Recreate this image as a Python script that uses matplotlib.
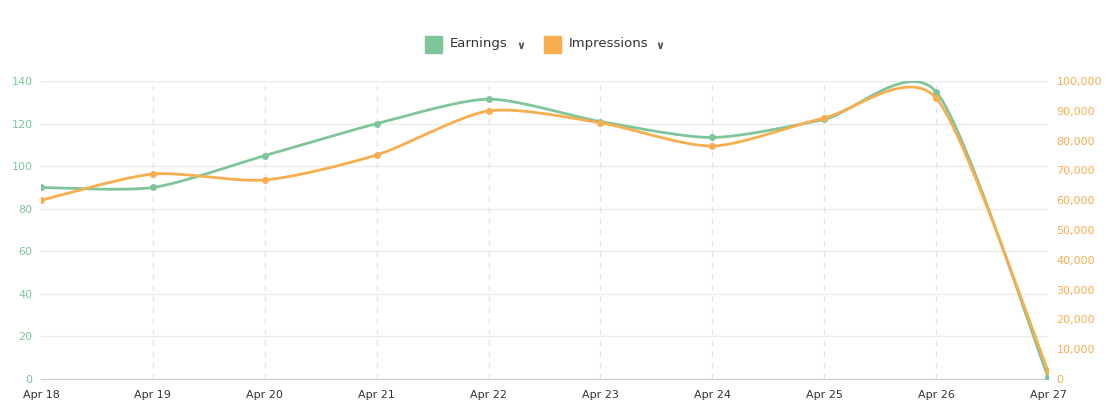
import matplotlib.pyplot as plt
import numpy as np
from matplotlib.ticker import FuncFormatter

days = ["Apr 18", "Apr 19", "Apr 20", "Apr 21", "Apr 22", "Apr 23", "Apr 24", "Apr 25", "Apr 26", "Apr 27"]
earnings = [90, 90, 105, 120, 131.5, 121, 113.5, 122, 135, 1]
impressions = [60000, 68800, 66800, 75200, 90000, 86000, 78200, 87600, 94300, 2700]

green = "#7ec699"
orange = "#f8ad4f"


def smooth(y, t=0.25, n=30):
    # cardinal spline through the points, like chart.js line tension
    y = np.asarray(y, float)
    x = np.arange(len(y), dtype=float)
    xs, ys = [], []
    for i in range(len(y) - 1):
        p0 = (x[max(i - 1, 0)], y[max(i - 1, 0)])
        p1 = (x[i], y[i])
        p2 = (x[i + 1], y[i + 1])
        p3 = (x[min(i + 2, len(y) - 1)], y[min(i + 2, len(y) - 1)])
        c1 = (p1[0] + (p2[0] - p0[0]) * t / 2, p1[1] + (p2[1] - p0[1]) * t / 2)
        c2 = (p2[0] - (p3[0] - p1[0]) * t / 2, p2[1] - (p3[1] - p1[1]) * t / 2)
        s = np.linspace(0, 1, n)
        bx = (1-s)**3*p1[0] + 3*(1-s)**2*s*c1[0] + 3*(1-s)*s**2*c2[0] + s**3*p2[0]
        by = (1-s)**3*p1[1] + 3*(1-s)**2*s*c1[1] + 3*(1-s)*s**2*c2[1] + s**3*p2[1]
        xs.append(bx); ys.append(by)
    return np.concatenate(xs), np.concatenate(ys)


fig = plt.figure(figsize=(11.18, 4.18), dpi=100)
ax = fig.add_axes([0.0367, 0.0933, 0.9007, 0.7127])
ax2 = ax.twinx()

x = np.arange(len(days))
sx, sy = smooth(earnings)
ax.plot(sx, sy, color=green, lw=2, zorder=3)
ax.scatter(x, earnings, color=green, s=16, zorder=4)
sx, sy = smooth(impressions)
ax2.plot(sx, sy, color=orange, lw=2, zorder=2)
ax2.scatter(x, impressions, color=orange, s=16, zorder=3)

ax.set_xlim(0, len(days) - 1)
ax.set_ylim(0, 140)
ax2.set_ylim(0, 100000)
ax.set_yticks(range(0, 141, 20))
ax2.set_yticks(range(0, 100001, 10000))
ax2.yaxis.set_major_formatter(FuncFormatter(lambda v, p: f"{int(v):,}"))
ax.set_xticks(x)
ax.set_xticklabels(days)

ax.grid(axis="y", color="#ebebeb", lw=1)
for xi in x[1:-1]:
    ax.axvline(xi, color="#e3e3e3", lw=1, ls=(0, (4, 4)), zorder=0)

for a in (ax, ax2):
    for s in a.spines.values():
        s.set_visible(False)
ax.spines["bottom"].set_visible(True)
ax.spines["bottom"].set_color("#cccccc")
ax.tick_params(axis="x", length=0, labelsize=8, colors="#333333", pad=8)
ax.tick_params(axis="y", length=0, labelsize=8, colors=green, pad=6)
ax2.tick_params(axis="y", length=0, labelsize=8, colors=orange, pad=6)

# legend
fig.patches.append(plt.Rectangle((425/1118, 1-53/418), 17/1118, 17/418, color=green, transform=fig.transFigure))
fig.text(450/1118, 1-44/418, "Earnings", fontsize=9.5, va="center", color="#333333")
fig.text(521/1118, 1-46/418, "\u2228", fontsize=8, va="center", ha="center", color="#555555", fontweight="bold")
fig.patches.append(plt.Rectangle((544/1118, 1-53/418), 17/1118, 17/418, color=orange, transform=fig.transFigure))
fig.text(569/1118, 1-44/418, "Impressions", fontsize=9.5, va="center", color="#333333")
fig.text(660/1118, 1-46/418, "\u2228", fontsize=8, va="center", ha="center", color="#555555", fontweight="bold")

fig.savefig("out.png", dpi=100)
